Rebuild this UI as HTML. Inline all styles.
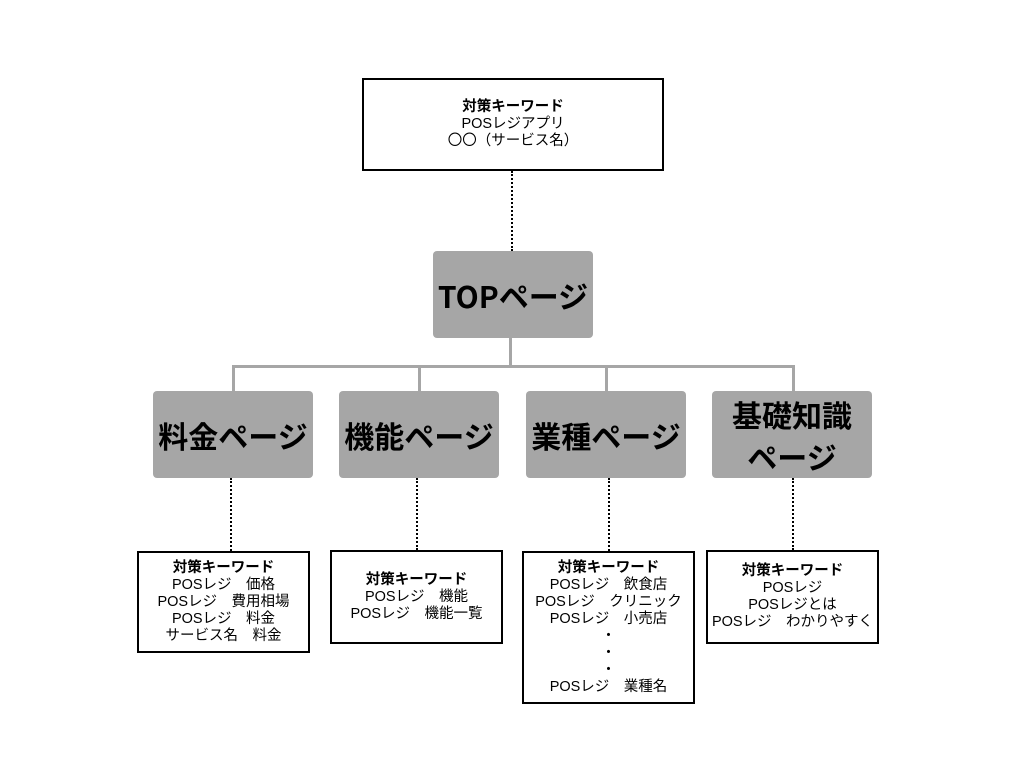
<!DOCTYPE html>
<html><head><meta charset="utf-8"><style>
body{margin:0;width:1024px;height:768px;background:#fff;position:relative;overflow:hidden;font-family:"Liberation Sans","Noto Sans CJK JP",sans-serif;}
.k{position:absolute;border:2px solid #000;box-sizing:border-box;background:#fff;display:flex;flex-direction:column;justify-content:center;align-items:center;font-size:14.5px;line-height:17px;color:#000;text-align:center;white-space:nowrap;}
.k b{font-weight:bold;}
.g{position:absolute;background:#a6a6a6;border-radius:4px;display:flex;align-items:center;justify-content:center;font-weight:bold;font-size:30px;line-height:42px;text-align:center;color:#000;font-family:"Noto Sans CJK JP",sans-serif;}
.l{position:absolute;background:#a6a6a6;}
.d{position:absolute;width:0;border-left:2px dotted #000;}
</style></head><body>
<div class="k" style="left:362px;top:78px;width:302px;height:93px;"><b>対策キーワード</b>POSレジアプリ<br>〇〇（サービス名）</div>
<div class="d" style="left:511px;top:171px;height:80px;"></div>
<div class="g" style="left:433px;top:251px;width:160px;height:87px;font-size:30px;">TOPページ</div>
<div class="l" style="left:509px;top:338px;width:3px;height:29px;"></div>
<div class="l" style="left:232px;top:365px;width:563px;height:3px;"></div>
<div class="l" style="left:232px;top:365px;width:3px;height:26px;"></div>
<div class="l" style="left:418px;top:365px;width:3px;height:26px;"></div>
<div class="l" style="left:605px;top:365px;width:3px;height:26px;"></div>
<div class="l" style="left:792px;top:365px;width:3px;height:26px;"></div>
<div class="g" style="left:153px;top:391px;width:160px;height:87px;">料金ページ</div>
<div class="g" style="left:339px;top:391px;width:160px;height:87px;">機能ページ</div>
<div class="g" style="left:526px;top:391px;width:160px;height:87px;">業種ページ</div>
<div class="g" style="left:712px;top:391px;width:160px;height:87px;">基礎知識<br>ページ</div>
<div class="d" style="left:230px;top:478px;height:73px;"></div>
<div class="d" style="left:416px;top:478px;height:72px;"></div>
<div class="d" style="left:608px;top:478px;height:73px;"></div>
<div class="d" style="left:792px;top:478px;height:72px;"></div>
<div class="k" style="left:137px;top:551px;width:173px;height:102px;"><b>対策キーワード</b>POSレジ　価格<br>POSレジ　費用相場<br>POSレジ　料金<br>サービス名　料金</div>
<div class="k" style="left:330px;top:550px;width:173px;height:94px;"><b>対策キーワード</b>POSレジ　機能<br>POSレジ　機能一覧</div>
<div class="k" style="left:522px;top:551px;width:173px;height:153px;"><b>対策キーワード</b>POSレジ　飲食店<br>POSレジ　クリニック<br>POSレジ　小売店<br>・<br>・<br>・<br>POSレジ　業種名</div>
<div class="k" style="left:706px;top:550px;width:173px;height:94px;"><b>対策キーワード</b>POSレジ<br>POSレジとは<br>POSレジ　わかりやすく</div>
</body></html>
